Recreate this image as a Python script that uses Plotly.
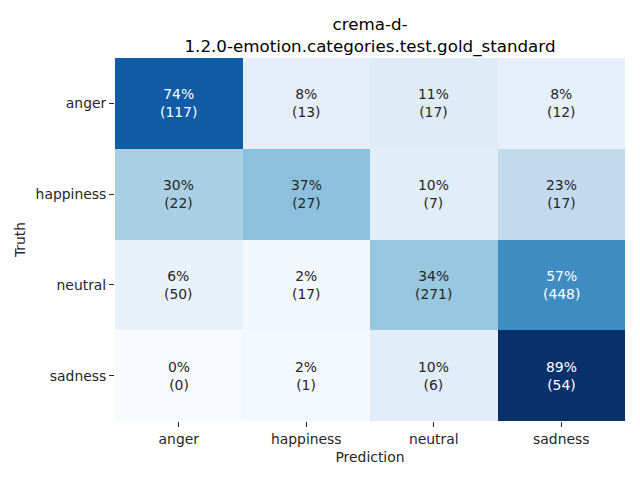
import plotly.graph_objects as go

categories = ["anger", "happiness", "neutral", "sadness"]
truth_labels = ["anger", "happiness", "neutral", "sadness"]
counts = [
    [117, 13, 17, 12],
    [22, 27, 7, 17],
    [50, 17, 271, 448],
    [0, 1, 6, 54],
]

pct = [[c / sum(row) for c in row] for row in counts]
zmax = max(max(r) for r in pct)

blues = [
    [0.0, "#f7fbff"], [0.125, "#deebf7"], [0.25, "#c6dbef"], [0.375, "#9ecae1"],
    [0.5, "#6baed6"], [0.625, "#4292c6"], [0.75, "#2171b5"], [0.875, "#08519c"],
    [1.0, "#08306b"],
]

font = "DejaVu Sans"
fig = go.Figure(go.Heatmap(
    z=pct, x=categories, y=truth_labels, colorscale=blues,
    zmin=0, zmax=zmax, showscale=False, xgap=0, ygap=0, hoverinfo="skip",
))

for i, t in enumerate(truth_labels):
    for j, p in enumerate(categories):
        v = pct[i][j]
        fig.add_annotation(
            x=p, y=t, xref="x", yref="y", showarrow=False,
            text=f"{round(v*100):.0f}%<br>({counts[i][j]})",
            font=dict(family=font, size=13.9, color="white" if v > 0.55 * zmax else "#262626"),
        )

fig.update_layout(
    width=632, height=472, plot_bgcolor="white", paper_bgcolor="white",
    margin=dict(l=107, r=15, t=50, b=59),
    title=dict(text="crema-d-<br>1.2.0-emotion.categories.test.gold_standard",
               x=0.5, xref="paper", xanchor="center",
               y=1 - 22 / 472, yref="container", yanchor="top",
               font=dict(family=font, size=16.7, color="black")),
    font=dict(family=font, size=13.9, color="#262626"),
)
fig.update_xaxes(title=dict(text="Prediction", standoff=6, font=dict(size=13.9)),
                 ticks="outside", ticklen=5, tickcolor="#262626", showgrid=False,
                 zeroline=False, showline=False, automargin=False)
fig.update_yaxes(title=dict(text="Truth", standoff=6, font=dict(size=13.9)),
                 autorange="reversed", ticks="outside", ticklen=5, tickcolor="#262626",
                 showgrid=False, zeroline=False, showline=False, automargin=False)

fig.write_html("out.html")
